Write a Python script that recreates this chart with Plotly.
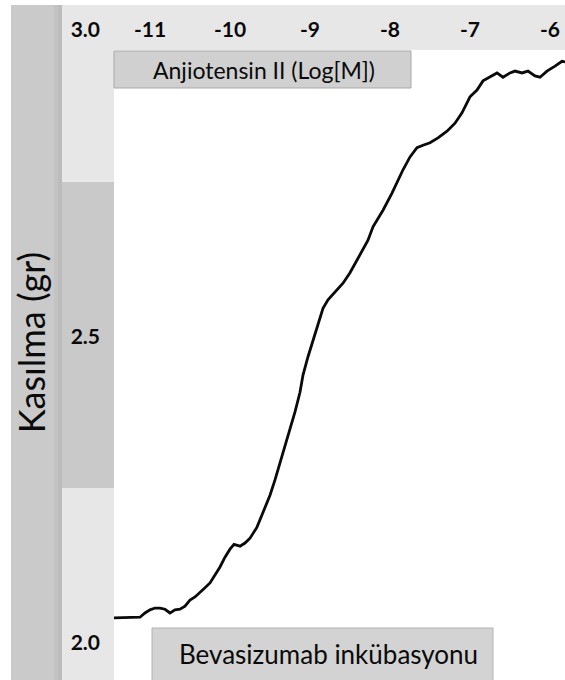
import plotly.graph_objects as go

# ---- data ----
log_conc = [-11.4625, -11.375, -11.2875, -11.2125, -11.125, -11.0625, -11.0, -10.9375,
            -10.875, -10.8125, -10.75, -10.6875, -10.625, -10.5625, -10.5, -10.4375,
            -10.375, -10.3125, -10.25, -10.1875, -10.125, -10.0625, -10.0, -9.95,
            -9.875, -9.8125, -9.75, -9.6625, -9.5875, -9.5, -9.4375, -9.375, -9.3125,
            -9.25, -9.1875, -9.125, -9.0875, -9.025, -8.9625, -8.9, -8.8375, -8.775,
            -8.6875, -8.5875, -8.5, -8.4125, -8.3375, -8.275, -8.2125, -8.0875, -7.975,
            -7.9125, -7.8375, -7.75, -7.6625, -7.5875, -7.5, -7.4, -7.2875, -7.1875,
            -7.1, -7.0, -6.9125, -6.8375, -6.75, -6.6625, -6.5875, -6.5, -6.4375, -6.35,
            -6.275, -6.1875, -6.125, -6.0375, -5.9375, -5.85, -5.8125]
contraction = [2.041, 2.041, 2.042, 2.041, 2.042, 2.049, 2.054, 2.057,
               2.057, 2.055, 2.049, 2.054, 2.055, 2.060, 2.070, 2.075,
               2.082, 2.090, 2.098, 2.111, 2.124, 2.140, 2.153, 2.161,
               2.158, 2.163, 2.171, 2.189, 2.212, 2.241, 2.266, 2.294, 2.318,
               2.347, 2.377, 2.409, 2.437, 2.467, 2.494, 2.522, 2.546, 2.560,
               2.573, 2.587, 2.604, 2.625, 2.641, 2.657, 2.679, 2.706, 2.734,
               2.752, 2.772, 2.793, 2.808, 2.812, 2.816, 2.824, 2.835, 2.848,
               2.865, 2.891, 2.902, 2.917, 2.923, 2.930, 2.923, 2.930, 2.933, 2.930,
               2.933, 2.925, 2.923, 2.933, 2.941, 2.949, 2.948]

x_ticks = [-11, -10, -9, -8, -7, -6]
x_ticktext = ["-11", "-10", "-9", "-8", "-7", "-6"]
y_ticks = [2.0, 2.5, 3.0]
y_ticktext = ["2.0", "2.5", "3.0"]

x_title = "Anjiotensin II (Log[M])"
y_title = "Kasılma (gr)"
bottom_label = "Bevasizumab inkübasyonu"

# ---- layout geometry (pixels) ----
W, H = 565, 680
ML, MR, MT, MB = 114, 0, 5, 0
PW, PH = W - ML - MR, H - MT - MB


def px(x):
    return (x - ML) / PW


def py(y):
    return (H - MB - y) / PH


FONT = "Lato, 'Open Sans', sans-serif"

fig = go.Figure()
fig.add_trace(go.Scatter(
    x=log_conc, y=contraction, mode="lines",
    line=dict(color="#0a0a0a", width=2.8),
    hoverinfo="skip", showlegend=False,
))

shapes = []


def rect(x0, y0, x1, y1, fill, line=None, layer="below"):
    shapes.append(dict(
        type="rect", xref="paper", yref="paper",
        x0=px(x0), x1=px(x1), y0=py(y1), y1=py(y0),
        fillcolor=fill, layer=layer,
        line=dict(width=1 if line else 0, color=line or "rgba(0,0,0,0)"),
    ))


# outer left band with darker right edge
rect(11, 5, 62, 680, "#cacaca")
rect(54, 5, 58, 680, "#c3c3c3")
rect(58, 5, 62, 680, "#bcbcbc")
# tick column
rect(62, 5, 114, 680, "#e7e7e7")
rect(62, 182, 114, 488, "#c9c9c9")
# top band
rect(114, 5, 565, 50, "#e7e7e7")
# x-title box
rect(114, 51, 411, 88, "#d0d0d0", line="#a9a9a9")
# bottom label box
rect(152, 628, 493, 681, "#d3d3d3", line="#b3b3b3")

annotations = [
    dict(text=x_title, xref="paper", yref="paper", x=px(264), y=py(70),
         xanchor="center", yanchor="middle", showarrow=False,
         font=dict(family=FONT, size=23, color="#0a0a0a")),
    dict(text=bottom_label, xref="paper", yref="paper", x=px(328), y=py(654),
         xanchor="center", yanchor="middle", showarrow=False,
         font=dict(family=FONT, size=26, color="#0a0a0a")),
]

fig.update_layout(
    width=W, height=H,
    margin=dict(l=ML, r=MR, t=MT, b=MB, pad=0),
    paper_bgcolor="white", plot_bgcolor="white",
    font=dict(family=FONT, color="#0a0a0a"),
    shapes=shapes, annotations=annotations,
    xaxis=dict(
        side="top", range=[-11.45, -5.8125],
        tickvals=x_ticks, ticktext=x_ticktext,
        ticklabelposition="inside", ticklabeloverflow="allow",
        ticks="", ticklabelstandoff=14,
        tickfont=dict(family=FONT, size=21, color="#0a0a0a", weight="bold"),
        showgrid=False, zeroline=False, showline=False, fixedrange=True,
    ),
    yaxis=dict(
        range=[1.9396, 3.0408],
        tickvals=y_ticks, ticktext=y_ticktext,
        ticks="", ticklabelstandoff=13,
        tickfont=dict(family=FONT, size=21, color="#0a0a0a", weight="bold"),
        showgrid=False, zeroline=False, showline=False, fixedrange=True,
        title=dict(text=y_title, standoff=14,
                   font=dict(family=FONT, size=36, color="#0a0a0a")),
        automargin=False,
    ),
)

fig.write_html("out.html")
